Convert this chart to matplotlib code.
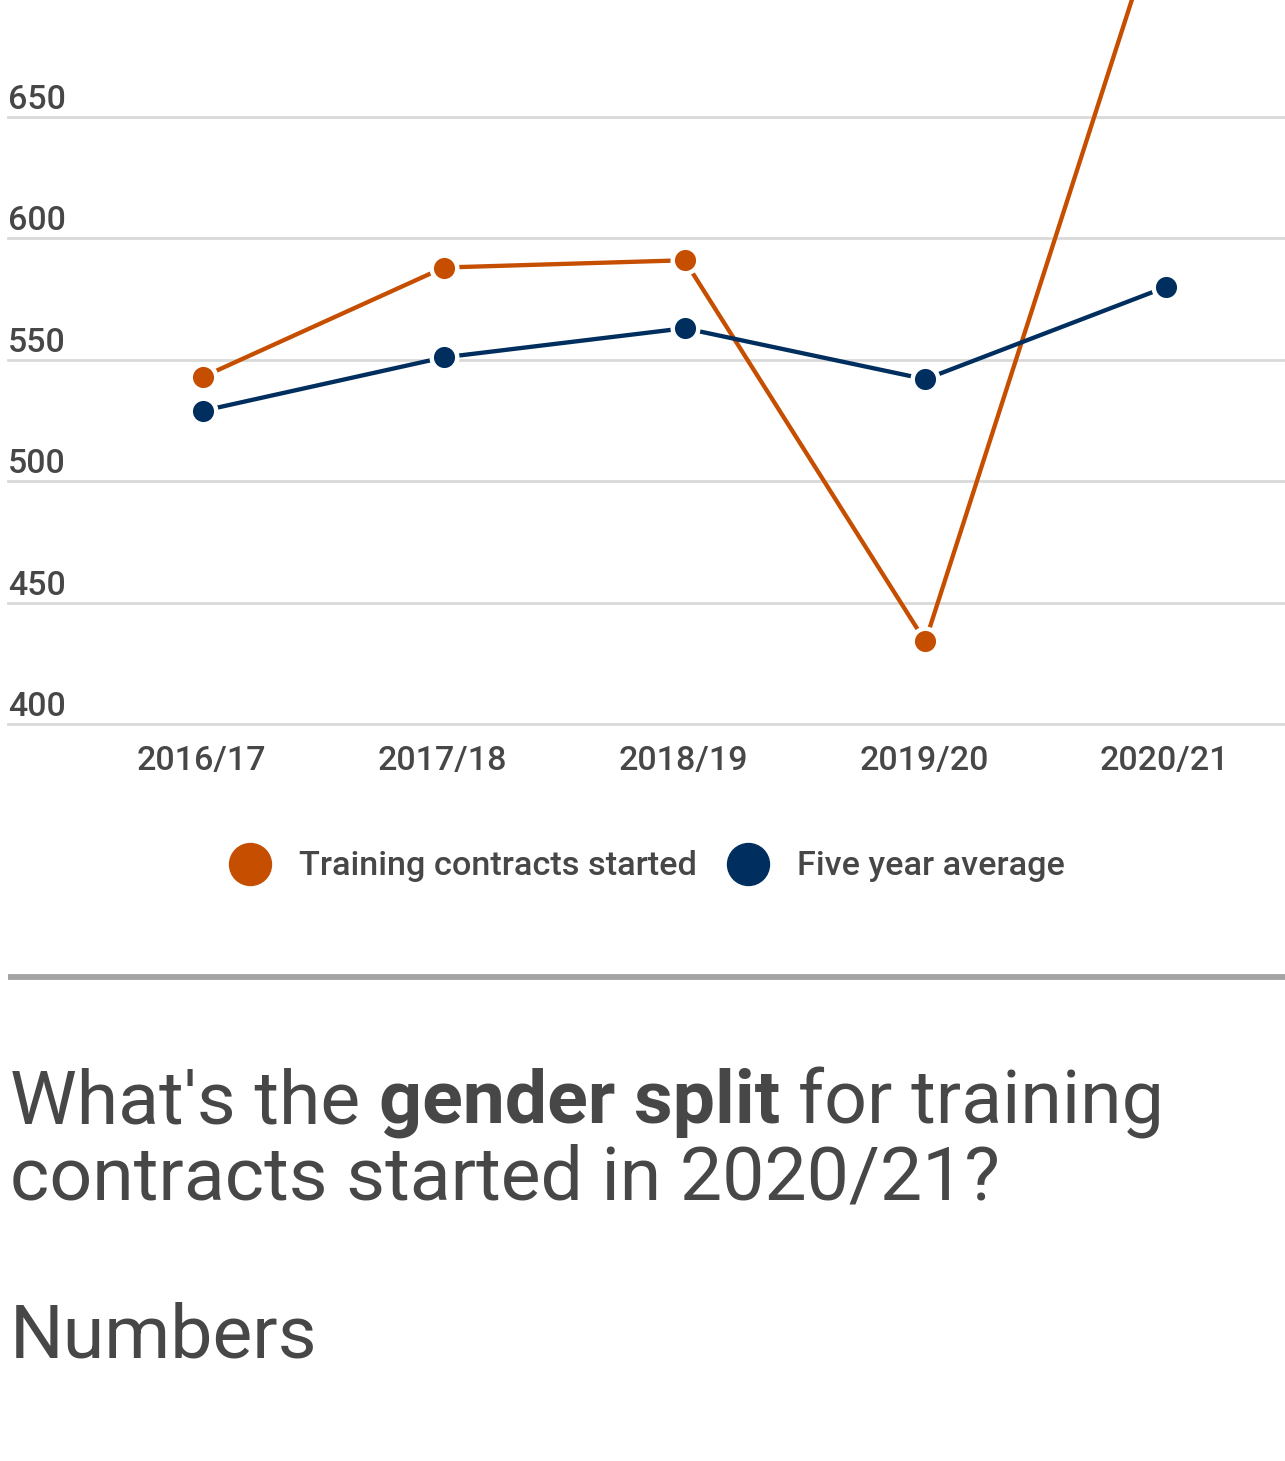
import matplotlib
matplotlib.use("Agg")
import matplotlib.pyplot as plt
from matplotlib.lines import Line2D

plt.rcParams['font.family'] = ['Roboto', 'DejaVu Sans']

# ---- data ----
years = ["2016/17", "2017/18", "2018/19", "2019/20", "2020/21"]
training_started = [543, 588, 591, 434, 742]
five_year_avg = [529, 551, 563, 542, 580]
y_ticks = [400, 450, 500, 550, 600, 650]
series_names = ["Training contracts started", "Five year average"]
title_parts = [("What's the", "normal"), ("gender split", "bold"), ("for training", "normal")]
title_line2 = "contracts started in 2020/21?"
subtitle = "Numbers"

ORANGE = "#c54e00"
BLUE = "#002f5f"
TEXT = "#474747"
GRID = "#d9d9d9"

W, H = 1285, 1461
fig = plt.figure(figsize=(W / 100, H / 100), dpi=100)
fig.patch.set_facecolor("white")

def fx(px):
    return px / W

def fy(py):
    return 1 - py / H

ax_bottom_px = 724
ax = fig.add_axes([fx(8), fy(ax_bottom_px), fx(1285 - 8), ax_bottom_px / H])
ax.set_facecolor("none")
ppu = 2.428
ax.set_ylim(400, 400 + ax_bottom_px / ppu)
ax.set_xlim(-0.81, 4.494)
for s in ax.spines.values():
    s.set_visible(False)
ax.set_xticks([])
ax.set_yticks([])

for v in y_ticks:
    ax.axhline(v, color=GRID, lw=2.0, zorder=1, clip_on=False)
    ax.annotate(str(v), xy=(0, v), xycoords=('axes fraction', 'data'),
                xytext=(0, 5.8), textcoords='offset points',
                ha='left', va='baseline', fontsize=24.5, fontweight='medium',
                color=TEXT, annotation_clip=False)

xs = list(range(len(years)))
for i, lab in enumerate(years):
    ax.annotate(lab, xy=(i, 400), xycoords='data', xytext=(-1, -33),
                textcoords='offset points', ha='center', va='baseline',
                fontsize=24.5, fontweight='medium', color=TEXT,
                annotation_clip=False)

mk = dict(marker='o', markersize=18.4, markeredgecolor='white', markeredgewidth=3.2)
ax.plot(xs, training_started, color=ORANGE, lw=3.1, markerfacecolor=ORANGE,
        zorder=3, **mk)
ax.plot(xs, five_year_avg, color=BLUE, lw=3.1, markerfacecolor=BLUE,
        zorder=4, **mk)

# ---- legend ----
for (cx, tx), name, col in zip([(250, 299), (748, 797)], series_names, [ORANGE, BLUE]):
    fig.add_artist(Line2D([fx(cx)], [fy(864)], marker='o', markersize=30.2,
                          color=col, linestyle='none', transform=fig.transFigure))
    fig.text(fx(tx), fy(875), name, ha='left', va='baseline', fontsize=24.7,
             fontweight='medium', color=TEXT)

# ---- separator ----
fig.add_artist(Line2D([fx(8), fx(1285)], [fy(977), fy(977)], color="#a3a3a3",
                      lw=4.2, transform=fig.transFigure, solid_capstyle='butt'))

# ---- title ----
fs_title = 54.2
fig.canvas.draw()
renderer = fig.canvas.get_renderer()

def width_px(s, weight):
    t = fig.text(0, 0, s, fontsize=fs_title, fontweight=weight)
    w = t.get_window_extent(renderer).width
    t.remove()
    return w

space = width_px("a a", "normal") - width_px("aa", "normal")
x = 10
for txt, wt in title_parts:
    t = fig.text(fx(x), fy(1123), txt, ha='left', va='baseline', fontsize=fs_title,
                 fontweight=wt, color=TEXT)
    x += t.get_window_extent(renderer).width + space

fig.text(fx(10), fy(1200), title_line2, ha='left', va='baseline', fontsize=fs_title,
         color=TEXT)
fig.text(fx(10), fy(1358), subtitle, ha='left', va='baseline', fontsize=fs_title,
         color=TEXT)

fig.savefig("out.png", dpi=100, facecolor="white")
